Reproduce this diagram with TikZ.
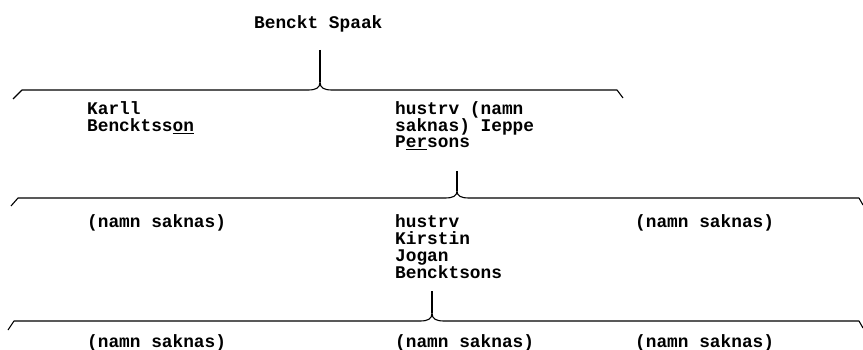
\documentclass[tikz,border=0pt]{standalone}
\usepackage{fontspec}
\setmonofont{Liberation Mono}
\usetikzlibrary{positioning}

\begin{document}
\begin{tikzpicture}[x=1pt, y=-1pt,
    person/.style={anchor=base west, align=left, inner sep=0pt,
                   font=\ttfamily\bfseries\fontsize{17.8}{16.7}\selectfont},
    brace/.style={line width=1.1pt, line join=round}]
    \useasboundingbox (0,0) rectangle (863,350);

    % Generation 1
    \node[person] (spaak) at (254,29) {Benckt Spaak};
    \coordinate (spaakstem) at (320,50);

    % Generation 2 (base = last line)
    \node[person] (karll) at (87,131.5) {Karll\\Bencktss\underline{on}};
    \node[person] (hustru1) at (395,148) {hustrv (namn\\saknas) Ieppe\\P\underline{er}sons};
    \coordinate (hustru1stem) at (457,171);

    % Generation 3
    \node[person] (okand1) at (87,228) {(namn saknas)};
    \node[person] (kirstin) at (395,278) {hustrv\\Kirstin\\Jogan\\Bencktsons};
    \node[person] (okand2) at (635,228) {(namn saknas)};
    \coordinate (kirstinstem) at (432,291);

    % Generation 4
    \node[person] (okand3) at (87,347) {(namn saknas)};
    \node[person] (okand4) at (395,347) {(namn saknas)};
    \node[person] (okand5) at (635,347) {(namn saknas)};

    % Brace under Benckt Spaak
    \draw[brace] (spaakstem) -- (320,82);
    \draw[brace] (13,99) -- (22,90) -- (308,90)
        .. controls (316,90) and (320,88) .. (320,82)
        .. controls (320,88) and (324,90) .. (332,90)
        -- (617,90) -- (623,98);

    % Brace under hustrv (namn saknas)
    \draw[brace] (hustru1stem) -- (457,191);
    \draw[brace] (11,206) -- (18,198) -- (445,198)
        .. controls (453,198) and (457,196) .. (457,191)
        .. controls (457,196) and (461,198) .. (469,198)
        -- (859,198) -- (863,205);

    % Brace under Kirstin
    \draw[brace] (kirstinstem) -- (432,313);
    \draw[brace] (8,330) -- (14,321) -- (420,321)
        .. controls (428,321) and (432,319) .. (432,313)
        .. controls (432,319) and (436,321) .. (444,321)
        -- (859,321) -- (863,328);
\end{tikzpicture}
\end{document}
